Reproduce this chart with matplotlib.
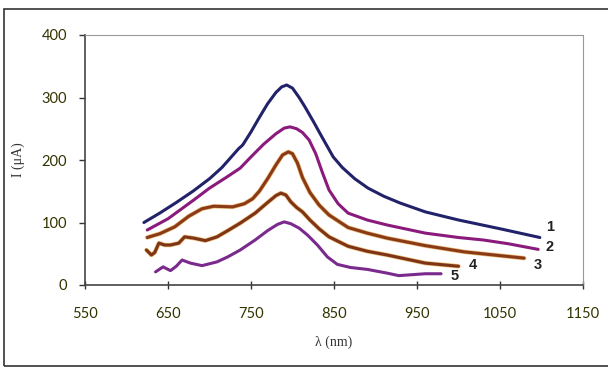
import matplotlib.pyplot as plt
from matplotlib.patches import Rectangle

# curve data: wavelength (nm) and current (uA)
x1 = [621, 640, 660, 680, 700, 715, 725, 735, 740, 750, 760, 770, 780, 787, 793, 800, 808, 815, 825, 835, 849, 860, 875, 891, 910, 930, 960, 1000, 1050, 1098]
y1 = [100, 115, 132, 150, 170, 188, 203, 218, 224, 245, 268, 290, 308, 317, 320, 315, 300, 285, 262, 238, 205, 188, 170, 155, 142, 131, 117, 104, 90, 76]

x2 = [625, 650, 681, 700, 720, 737, 750, 765, 780, 790, 797, 805, 812, 820, 828, 836, 844, 855, 867, 890, 914, 960, 1000, 1030, 1060, 1096]
y2 = [88, 106, 136, 155, 172, 187, 205, 225, 242, 251, 253, 250, 244, 232, 210, 180, 152, 130, 115, 104, 96, 83, 76, 72, 66, 57]

x3 = [625, 640, 658, 675, 691, 705, 728, 742, 752, 760, 770, 780, 788, 795, 800, 806, 812, 821, 832, 844, 867, 890, 914, 960, 1007, 1050, 1079]
y3 = [76, 82, 93, 110, 122, 126, 125, 130, 138, 150, 170, 192, 208, 213, 210, 195, 172, 148, 128, 112, 92, 83, 75, 63, 53, 47, 43]

x4 = [624, 630, 634, 639, 646, 653, 663, 670, 681, 695, 709, 722, 737, 755, 770, 780, 786, 792, 798, 805, 812, 821, 832, 844, 867, 890, 914, 960, 1000]
y4 = [56, 48, 52, 67, 64, 64, 67, 77, 75, 71, 77, 87, 99, 115, 132, 143, 147, 144, 133, 124, 117, 104, 90, 77, 62, 54, 48, 35, 30]

x5 = [635, 644, 653, 660, 667, 677, 691, 709, 722, 737, 755, 770, 782, 790, 798, 808, 818, 830, 842, 854, 870, 890, 914, 928, 960, 979]
y5 = [21, 29, 23, 30, 40, 35, 31, 37, 45, 56, 72, 87, 97, 101, 98, 91, 80, 64, 45, 33, 28, 25, 19, 15, 18, 18]

curve_names = ['1', '2', '3', '4', '5']
label_pos = [(1105, 93), (1105, 61), (1091, 32), (1012, 32), (991, 14)]
colors = ['#22226a', '#8a1a7c', '#8a3a16', '#7e3416', '#7a2a8c']
brown = [False, False, True, True, False]

plt.rcParams['font.family'] = ['Lato', 'DejaVu Sans']

fig = plt.figure(figsize=(6.08, 3.68), dpi=100)
ax = fig.add_axes([85/608, 83/368, 498/608, 250/368])

for xs, ys, c, b in zip([x1, x2, x3, x4, x5], [y1, y2, y3, y4, y5], colors, brown):
    if b:
        ax.plot(xs, ys, color='#e0a040', lw=3.2, solid_capstyle='round',
                solid_joinstyle='round', alpha=0.7)
    ax.plot(xs, ys, color=c, lw=2.2, solid_capstyle='round', solid_joinstyle='round')

for name, (lx, ly) in zip(curve_names, label_pos):
    ax.text(lx, ly, name, fontsize=10.5, fontweight='bold', family='Liberation Sans',
            ha='left', va='center', color='#222222')

ax.set_xlim(550, 1150)
ax.set_ylim(0, 400)
ax.set_xticks([550, 650, 750, 850, 950, 1050, 1150])
ax.set_yticks([0, 100, 200, 300, 400])
ax.tick_params(labelsize=10.5, colors='#333333', length=4, width=1)
ax.tick_params(axis='y', pad=9)
ax.tick_params(axis='x', direction='inout', length=6, pad=13)
for lab in ax.get_xticklabels() + ax.get_yticklabels():
    lab.set_color('#333300')

ax.set_xlabel('λ (nm)', family='Liberation Serif', fontsize=10, color='#333333', labelpad=10)
ax.set_ylabel('I (μA)', family='Liberation Serif', fontsize=10, color='#333333', labelpad=12)

for s in ['top', 'right']:
    ax.spines[s].set_color('#999999')
    ax.spines[s].set_linestyle((0, (2, 1)))
for s in ['left', 'bottom']:
    ax.spines[s].set_color('#444444')
    ax.spines[s].set_linewidth(1.2)

# outer frame
fig.patches.append(Rectangle((4/608, 2/368), 610/608, 357/368, transform=fig.transFigure,
                             fill=False, edgecolor='#333333', lw=1.2))

fig.savefig('out.png', dpi=100)
